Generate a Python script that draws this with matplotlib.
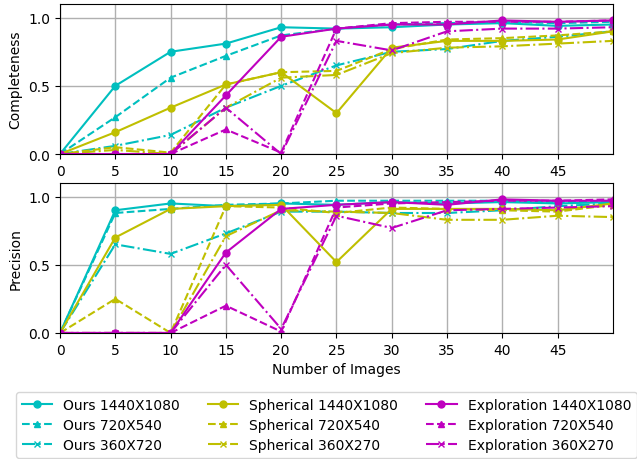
import matplotlib
matplotlib.use("Agg")
import matplotlib.pyplot as plt

x = [0, 5, 10, 15, 20, 25, 30, 35, 40, 45, 50]
xticks = [0, 5, 10, 15, 20, 25, 30, 35, 40, 45]

labels = ["Ours 1440X1080", "Ours 720X540", "Ours 360X720",
          "Spherical 1440X1080", "Spherical 720X540", "Spherical 360X270",
          "Exploration 1440X1080", "Exploration 720X540", "Exploration 360X270"]

completeness = {
    "Ours 1440X1080":        [0, 0.50, 0.75, 0.81, 0.93, 0.92, 0.93, 0.95, 0.96, 0.94, 0.95],
    "Ours 720X540":          [0, 0.27, 0.56, 0.72, 0.87, 0.92, 0.95, 0.96, 0.97, 0.96, 0.97],
    "Ours 360X720":          [0, 0.06, 0.14, 0.34, 0.50, 0.65, 0.75, 0.77, 0.83, 0.86, 0.90],
    "Spherical 1440X1080":   [0, 0.16, 0.34, 0.51, 0.60, 0.30, 0.78, 0.83, 0.83, 0.84, 0.90],
    "Spherical 720X540":     [0, 0.05, 0.01, 0.51, 0.60, 0.61, 0.77, 0.84, 0.85, 0.87, 0.90],
    "Spherical 360X270":     [0, 0.03, 0.00, 0.34, 0.56, 0.58, 0.74, 0.78, 0.79, 0.81, 0.83],
    "Exploration 1440X1080": [0, 0.00, 0.00, 0.43, 0.86, 0.92, 0.95, 0.95, 0.98, 0.97, 0.98],
    "Exploration 720X540":   [0, 0.00, 0.00, 0.18, 0.01, 0.92, 0.96, 0.97, 0.97, 0.97, 0.98],
    "Exploration 360X270":   [0, 0.00, 0.00, 0.34, 0.00, 0.83, 0.76, 0.90, 0.92, 0.92, 0.93],
}

precision = {
    "Ours 1440X1080":        [0, 0.90, 0.95, 0.93, 0.95, 0.94, 0.96, 0.95, 0.96, 0.95, 0.96],
    "Ours 720X540":          [0, 0.88, 0.91, 0.94, 0.95, 0.97, 0.97, 0.97, 0.97, 0.96, 0.97],
    "Ours 360X720":          [0, 0.65, 0.58, 0.73, 0.89, 0.89, 0.88, 0.88, 0.90, 0.93, 0.95],
    "Spherical 1440X1080":   [0, 0.70, 0.91, 0.93, 0.94, 0.52, 0.91, 0.91, 0.91, 0.90, 0.95],
    "Spherical 720X540":     [0, 0.25, 0.00, 0.93, 0.92, 0.88, 0.92, 0.91, 0.90, 0.89, 0.94],
    "Spherical 360X270":     [0, 0.00, 0.00, 0.71, 0.90, 0.89, 0.88, 0.83, 0.83, 0.86, 0.85],
    "Exploration 1440X1080": [0, 0.00, 0.00, 0.59, 0.91, 0.94, 0.96, 0.94, 0.98, 0.97, 0.97],
    "Exploration 720X540":   [0, 0.00, 0.00, 0.20, 0.01, 0.92, 0.95, 0.96, 0.97, 0.97, 0.98],
    "Exploration 360X270":   [0, 0.00, 0.00, 0.50, 0.03, 0.86, 0.77, 0.90, 0.91, 0.92, 0.93],
}

colors = {"Ours": "c", "Spherical": "y", "Exploration": "m"}
styles = {"1440X1080": ("-", "o"), "720X540": ("--", "^"),
          "360X720": ("-.", "x"), "360X270": ("-.", "x")}

fig = plt.figure(figsize=(6.37, 4.6), dpi=100)
ax1 = fig.add_axes([0.0942, 0.663, 0.868, 0.326])
ax2 = fig.add_axes([0.0942, 0.274, 0.868, 0.326])

def draw(ax, data):
    for lab in labels:
        method, res = lab.split(" ")
        ls, mk = styles[res]
        ax.plot(x, data[lab], color=colors[method], linestyle=ls, marker=mk,
                markersize=5, linewidth=1.5, label=lab)
    ax.set_xlim(0, 50)
    ax.set_ylim(0, 1.1)
    ax.set_xticks(xticks)
    ax.set_yticks([0, 0.5, 1.0])
    ax.set_yticklabels(["0.0", "0.5", "1.0"])
    ax.grid(True, color="#b0b0b0", linewidth=1.0)
    ax.set_axisbelow(True)

draw(ax1, completeness)
draw(ax2, precision)
ax1.set_ylabel("Completeness")
ax2.set_ylabel("Precision")
ax2.set_xlabel("Number of Images")

handles, labs = ax1.get_legend_handles_labels()
fig.legend(handles, labs, loc="upper left", bbox_to_anchor=(0.0251, 0.1457),
           borderaxespad=0, ncol=3, fontsize=10, frameon=True,
           handlelength=2.2, columnspacing=2.0, labelspacing=0.45)

fig.savefig("out.png", dpi=100)
